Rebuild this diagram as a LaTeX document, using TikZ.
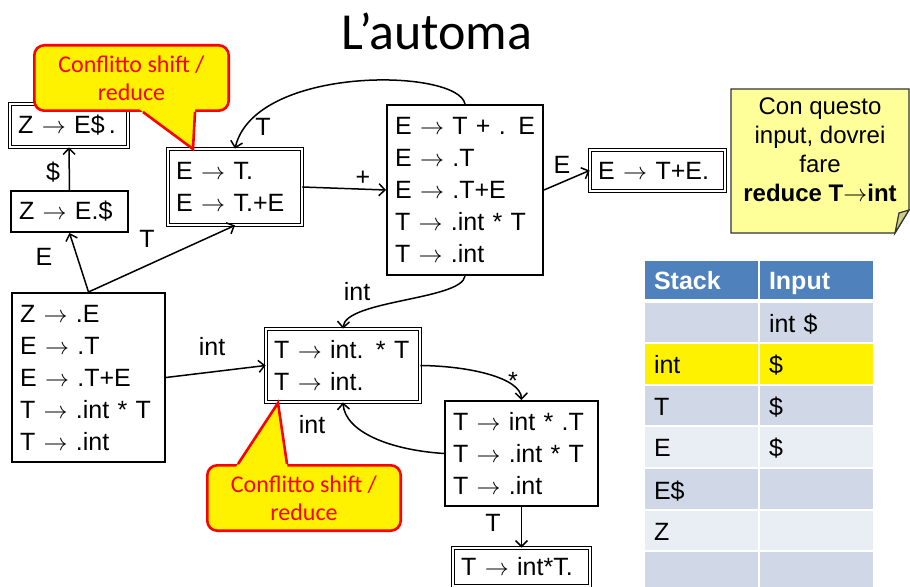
\documentclass[tikz,border=0pt]{standalone}
\usepackage{fontspec}
\setmainfont{Liberation Sans}
\newfontfamily\calloutfont{Carlito}
\usetikzlibrary{arrows.meta}
\definecolor{hdrblue}{HTML}{4F81BD}
\definecolor{rowdark}{HTML}{D0D8E8}
\definecolor{rowlight}{HTML}{E9EDF4}
\definecolor{noteyellow}{HTML}{FFFF99}
\definecolor{notefold}{HTML}{CDCD8A}
\begin{document}
\begin{tikzpicture}[x=0.5pt,y=-0.5pt,
  >={Straight Barb[length=3pt,width=6pt]},
  every node/.style={font=\fontsize{12.5}{16}\selectfont},
  state/.style={draw, line width=1pt, inner sep=4pt, align=left},
  accept/.style={draw, line width=0.6pt, double, double distance=1pt, inner sep=4pt, align=left},
  lbl/.style={inner sep=0pt},
  trans/.style={->, line width=0.75pt},
  callout/.style={draw=red, line width=1.3pt, fill=yellow, rounded corners=5pt, align=center,
    text=red, font=\calloutfont\fontsize{12}{14}\selectfont},
  cell/.style={minimum height=19.75pt, text width=47.5pt, text height=12.6pt, text depth=2.6pt,
    inner xsep=4.5pt, inner ysep=0pt, align=left}]
\useasboundingbox (0,0) rectangle (910,587);
\node (title) at (437,31) [font=\calloutfont\fontsize{26}{30}\selectfont] {L’automa};
% states
\node[accept, text width=50.8pt, minimum height=21.3pt] (acc1) at (69,125.5) {Z $\rightarrow$ E\$\,.};
\node[state, text width=50.5pt, minimum height=20.5pt] (s1) at (69.5,211.5) {Z $\rightarrow$ E.\$};
\node[accept, text width=58.8pt, minimum height=37.8pt] (s2) at (235,187) {E $\rightarrow$ T.\\E $\rightarrow$ T.+E};
\node[state, text width=70pt, minimum height=85pt] (s3) at (465,190) {E $\rightarrow$ T + . E\\E $\rightarrow$ .T\\E $\rightarrow$ .T+E\\T $\rightarrow$ .int * T\\T $\rightarrow$ .int};
\node[accept, text width=59.3pt, minimum height=20.3pt] (s4) at (657.5,170.5) {E $\rightarrow$ T+E.};
\node[state, text width=68.5pt, minimum height=84.5pt] (s0) at (88.5,377.5) {Z $\rightarrow$ .E\\E $\rightarrow$ .T\\E $\rightarrow$ .T+E\\T $\rightarrow$ .int * T\\T $\rightarrow$ .int};
\node[accept, text width=68.8pt, minimum height=36.3pt] (s5) at (343,365.5) {T $\rightarrow$ int. * T\\T $\rightarrow$ int.};
\node[state, text width=68.5pt, minimum height=52.5pt] (s6) at (521.5,453.5) {T $\rightarrow$ int * .T\\T $\rightarrow$ .int * T\\T $\rightarrow$ .int};
\node[accept, text width=60.3pt, minimum height=18.8pt] (s7) at (521.5,567) {T $\rightarrow$ int*T.};
% transitions
\draw[trans] (s1.north) -- (acc1.south);
\draw[trans] (s0.north) -- (s1.south);
\draw[trans] (s0.north) -- (s2.south);
\draw[trans] (s0.east) -- (s5.west);
\draw[trans] (s2.east) -- (s3.west);
\draw[trans] (s3.east) -- (s4.west);
\draw[trans] (s3.north) .. controls (458,68) and (255,65) .. (s2.north);
\draw[trans] (s3.south) .. controls (462,300) and (345,300) .. (s5.north);
\draw[trans] (s5.east) .. controls (470,366) and (521,378) .. (s6.north);
\draw[trans] (s6.west) .. controls (390,450) and (345,432) .. (s5.south);
\draw[trans] (s6.south) -- (s7.north);
\node[lbl] (ldollar) at (53,172) {\$};
\node[lbl] (lE1) at (44,257) {E};
\node[lbl] (lT1) at (147,239) {T};
\node[lbl] (lT2) at (263,127) {T};
\node[lbl] (lplus) at (363,178) {+};
\node[lbl] (lE2) at (562,165) {E};
\node[lbl] (lint1) at (357,292) {int};
\node[lbl] (lint2) at (212,347) {int};
\node[lbl] (lstar) at (513,381) {*};
\node[lbl] (lint3) at (312,425) {int};
\node[lbl] (lT3) at (493,523) {T};
% callouts
\node[callout, minimum width=97.2pt, minimum height=32.7pt] (conf1) at (131.5,78) {Conflitto shift /\\reduce};
\fill[yellow] (139,109) -- (193,149) -- (195.2,109) -- cycle;
\draw[red, line width=1.3pt] (143,112) -- (193,149) -- (195,112);
\node[callout, minimum width=96.7pt, minimum height=32.7pt] (conf2) at (304,498) {Conflitto shift /\\reduce};
\fill[yellow] (236,467) -- (278,403) -- (287.5,467) -- cycle;
\draw[red, line width=1.3pt] (238,464) -- (278,403) -- (287,464);
% note
\filldraw[fill=noteyellow, draw=black!80, line width=0.6pt] (731,89) -- (909,89) -- (909,210) -- (895,233) -- (731,233) -- cycle;
\filldraw[fill=notefold, draw=black!80, line width=0.6pt] (895,233) -- (899,213) -- (909,210) -- cycle;
\node[align=center, font=\fontsize{12}{14.5}\selectfont] (note) at (820,150) {Con questo\\input, dovrei\\fare\\\textbf{reduce T$\rightarrow$int}};
% stack table
\node[cell, fill=hdrblue, text=white, minimum height=19pt, font=\fontsize{12.5}{16}\selectfont\bfseries] (hstack) at (701.5,280) {Stack};
\node[cell, fill=hdrblue, text=white, minimum height=19pt, font=\fontsize{12.5}{16}\selectfont\bfseries] (hinput) at (816.5,280) {Input};
\node[cell, fill=rowdark] (st1) at (701.5,322.5) {};
\node[cell, fill=rowdark] (in1) at (816.5,322.5) {int \$};
\node[cell, fill=yellow] (st2) at (701.5,364) {int};
\node[cell, fill=yellow] (in2) at (816.5,364) {\$};
\node[cell, fill=rowdark] (st3) at (701.5,405.5) {T};
\node[cell, fill=rowdark] (in3) at (816.5,405.5) {\$};
\node[cell, fill=rowlight] (st4) at (701.5,447) {E};
\node[cell, fill=rowlight] (in4) at (816.5,447) {\$};
\node[cell, fill=rowdark] (st5) at (701.5,489) {E\$};
\node[cell, fill=rowdark] (in5) at (816.5,489) {};
\node[cell, fill=rowlight] (st6) at (701.5,530.5) {Z};
\node[cell, fill=rowlight] (in6) at (816.5,530.5) {};
\node[cell, fill=rowdark] (st7) at (701.5,572) {};
\node[cell, fill=rowdark] (in7) at (816.5,572) {};
\end{tikzpicture}
\end{document}
